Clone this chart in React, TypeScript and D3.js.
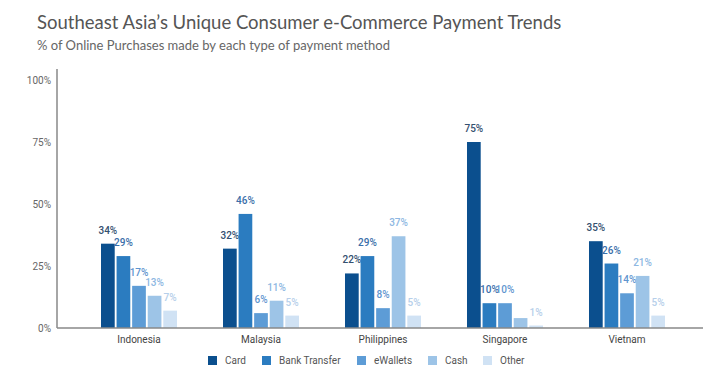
import * as d3 from "d3";

const countries = ["Indonesia", "Malaysia", "Philippines", "Singapore", "Vietnam"];
const methods = ["Card", "Bank Transfer", "eWallets", "Cash", "Other"];
const card = [34, 32, 22, 75, 35];
const bankTransfer = [29, 46, 29, 10, 26];
const eWallets = [17, 6, 8, 10, 14];
const cash = [13, 11, 37, 4, 21];
const other = [7, 5, 5, 1, 5];
// Singapore's cash bar has no label in the original
const showLabel = [
  [true, true, true, true, true],
  [true, true, true, true, true],
  [true, true, true, true, true],
  [true, true, true, false, true],
  [true, true, true, true, true],
];
const yTicks = [0, 25, 50, 75, 100];

const seriesValues = [card, bankTransfer, eWallets, cash, other];
const barColors = ["#0b4f8e", "#2b7cc0", "#5d9cd6", "#9dc4e7", "#d0e2f4"];
const labelColors = ["#34506f", "#3a6ea9", "#5f95cf", "#8db7e2", "#b6cfea"];

const W = 720;
const H = 374;
const M = { top: 80, bottom: 328, left: 57, right: 703 };

export default function App() {
  const y = d3.scaleLinear().domain([0, 100]).range([M.bottom, M.top]);
  const x0 = d3.scaleBand<string>().domain(countries).range([101, 665]).paddingInner(0.377).paddingOuter(0);
  const x1 = d3.scaleBand<string>().domain(methods).range([0, x0.bandwidth()]).paddingInner(0.12);

  const legendX = [208, 262, 357, 428, 483];

  return (
    <svg width={W} height={H} style={{ position: "absolute", left: 0, top: 0, background: "#fff" }}>
      <text x={37} y={29} fontFamily="Lato" fontSize={18.5} fill="#555">
        Southeast Asia’s Unique Consumer e-Commerce Payment Trends
      </text>
      <text x={37} y={50} fontFamily="Lato" fontSize={13} fill="#666">
        % of Online Purchases made by each type of payment method
      </text>

      {/* y ticks */}
      {yTicks.map((t) => (
        <text key={t} x={51} y={y(t) + 3.5} textAnchor="end" fontFamily="Roboto" fontSize={10} fill="#666">
          {t}%
        </text>
      ))}

      {/* bars */}
      {countries.map((c, ci) => (
        <g key={c} transform={`translate(${x0(c)},0)`}>
          {methods.map((m, mi) => {
            const v = seriesValues[mi][ci];
            const bx = x1(m)!;
            return (
              <g key={m}>
                <rect x={bx} y={y(v)} width={x1.bandwidth()} height={M.bottom - y(v)} fill={barColors[mi]} />
                {showLabel[ci][mi] && (
                  <text
                    x={bx + x1.bandwidth() / 2}
                    y={y(v) - 10}
                    textAnchor="middle"
                    fontFamily="Roboto"
                    fontWeight={500}
                    fontSize={10}
                    fill={labelColors[mi]}
                  >
                    {v}%
                  </text>
                )}
              </g>
            );
          })}
          <text
            x={x0.bandwidth() / 2}
            y={343}
            textAnchor="middle"
            fontFamily="Roboto"
            fontSize={10}
            fill="#444"
          >
            {c}
          </text>
        </g>
      ))}

      {/* axes */}
      <line x1={M.left} x2={M.left} y1={69} y2={M.bottom} stroke="#888" strokeWidth={1.5} />
      <line x1={M.left} x2={M.right} y1={M.bottom} y2={M.bottom} stroke="#888" strokeWidth={1.5} />

      {/* legend */}
      {methods.map((m, i) => (
        <g key={m} transform={`translate(${legendX[i]},356)`}>
          <rect x={0} y={0} width={9} height={9} fill={barColors[i]} />
          <text x={17} y={8} fontFamily="Roboto" fontSize={10} fill="#555">
            {m}
          </text>
        </g>
      ))}
    </svg>
  );
}
